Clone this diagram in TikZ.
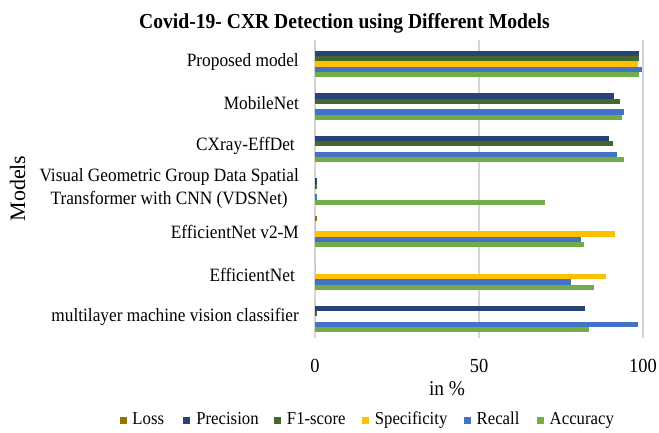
\documentclass[tikz,border=0pt]{standalone}
\usepackage{fontspec}
\setmainfont{Liberation Serif}[FakeStretch=0.92]
\newfontfamily\axisfont{Liberation Serif}
\usepackage{xcolor}
\usepackage{tikz}
\usetikzlibrary{positioning}

% series colours: Loss, Precision, F1-score, Specificity, Recall, Accuracy
\definecolor{ser0}{HTML}{997300}
\definecolor{ser1}{HTML}{264478}
\definecolor{ser2}{HTML}{43682B}
\definecolor{ser3}{HTML}{FFC000}
\definecolor{ser4}{HTML}{4472C4}
\definecolor{ser5}{HTML}{70AD47}
\definecolor{gridgray}{HTML}{D6D6D6}

\begin{document}
\begin{tikzpicture}[
        x=1pt, y=-1pt,
        catlabel/.style={anchor=east, align=center, inner sep=0pt, font=\fontsize{18.8}{23}\selectfont},
        ticklabel/.style={inner sep=0pt, font=\fontsize{20}{22}\selectfont},
        gridline/.style={draw=gridgray, line width=1.5pt},
        legsq/.style={minimum size=7pt, inner sep=0pt},
        legtext/.style={inner sep=0pt, text height=12pt, text depth=3.5pt, font=\fontsize{18.2}{20}\selectfont}
    ]
    \useasboundingbox (0,0) rectangle (659,432);

    \node[font=\bfseries\fontsize{21.3}{24}\selectfont] (title) at (344.5,23) {Covid-19- CXR Detection using Different Models};

    % grid lines at 0, 50, 100 %
    \foreach \t in {0,50,100} {
        \draw[gridline] ({315+3.28*\t},40) -- ({315+3.28*\t},338);
        \node[ticklabel] (tick\t) at ({315+3.28*\t},366) {\t};
    }

    % bars, one group per model, top to bottom
    \foreach \vals [count=\k from 0] in {%
        {0,98.8,98.8,98.4,99.6,98.8},% Proposed model
        {0,91.3,93.1,0,94.3,93.7},% MobileNet
        {0,89.7,90.9,0,92.2,94.3},% CXray-EffDet
        {0,0.6,0.6,0,0.5,70.0},% VDSNet
        {0.6,0,0,91.5,81.1,81.9},% EfficientNet v2-M
        {0,0,0,88.7,77.9,85.0},% EfficientNet
        {0,82.2,0.7,0,98.4,83.4}% multilayer classifier
    }{
        \foreach \v [count=\s from 0] in \vals
            \fill[ser\s] (315,{45.5+42.5*\k+5.33*\s}) rectangle ({315+3.28*\v},{50.83+42.5*\k+5.33*\s});
    }

    \node[catlabel] (proposed) at (299,61.5) {Proposed model};
    \node[catlabel] (mobilenet) at (299,103.5) {MobileNet};
    \node[catlabel] (effdet) at (295,146) {CXray-EffDet};
    \node[catlabel] (vdsnet) at (299,188.5) {Visual Geometric Group Data Spatial\\Transformer with CNN (VDSNet)};
    \node[catlabel] (effv2) at (299,231.5) {EfficientNet v2-M};
    \node[catlabel] (effnet) at (295,274.5) {EfficientNet};
    \node[catlabel] (mlp) at (299,316.5) {multilayer machine vision classifier};

    \node[rotate=90, inner sep=0pt, font=\axisfont\fontsize{22}{24}\selectfont] (ytitle) at (17.5,188.5) {Models};
    \node[inner sep=0pt, font=\fontsize{21}{24}\selectfont] (xtitle) at (447,389) {in \%};

    % legend
    \node[legsq, fill=ser0] (sqloss) at (123,420) {};
    \node[legtext, right=5.5pt of sqloss] (txtloss) {Loss};
    \node[legsq, fill=ser1, right=19pt of txtloss] (sqprec) {};
    \node[legtext, right=5.5pt of sqprec] (txtprec) {Precision};
    \node[legsq, fill=ser2, right=15pt of txtprec] (sqfone) {};
    \node[legtext, right=5.5pt of sqfone] (txtfone) {F1-score};
    \node[legsq, fill=ser3, right=16pt of txtfone] (sqspec) {};
    \node[legtext, right=5.5pt of sqspec] (txtspec) {Specificity};
    \node[legsq, fill=ser4, right=16pt of txtspec] (sqrec) {};
    \node[legtext, right=5.5pt of sqrec] (txtrec) {Recall};
    \node[legsq, fill=ser5, right=17pt of txtrec] (sqacc) {};
    \node[legtext, right=5.5pt of sqacc] (txtacc) {Accuracy};

\end{tikzpicture}
\end{document}
